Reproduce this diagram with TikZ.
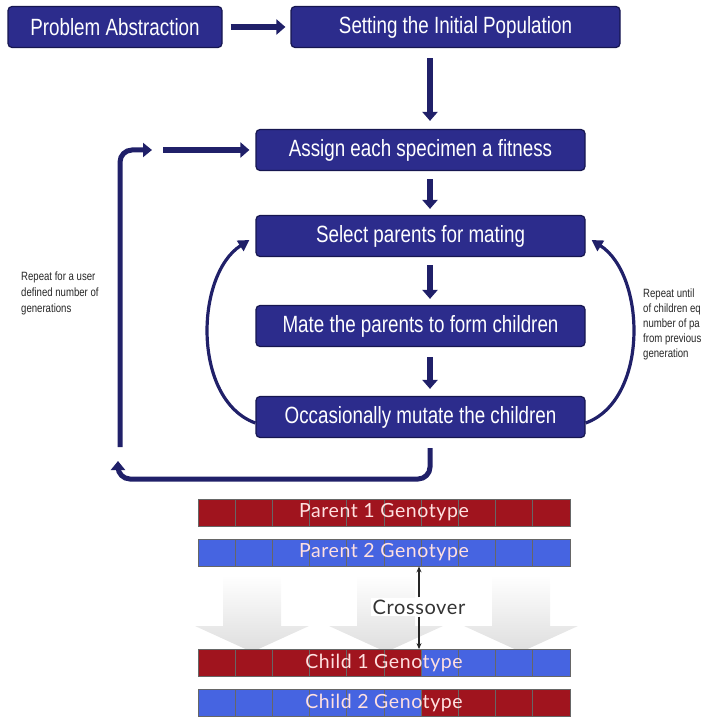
\documentclass[tikz,border=0pt]{standalone}
\usepackage{fontspec}
\setmainfont[FakeStretch=0.8]{Liberation Sans}
\newfontfamily\genofont[LetterSpace=3]{Lato}
\usetikzlibrary{arrows.meta}
\definecolor{boxblue}{RGB}{44,44,140}
\definecolor{boxedge}{RGB}{22,22,80}
\definecolor{arrownavy}{RGB}{32,32,105}
\definecolor{genored}{RGB}{160,20,30}
\definecolor{genoblue}{RGB}{70,100,225}

\begin{document}
\begin{tikzpicture}[x=1pt,y=-1pt,
    stage/.style={draw=boxedge,line width=1.2pt,fill=boxblue,rounded corners=4pt,text=white,
      minimum width=329pt,minimum height=41pt,inner sep=0pt,font=\fontsize{23.5}{26}\selectfont},
    flowarrow/.style={draw=arrownavy,line width=6pt,-{Triangle[length=9pt,width=15pt]}},
    looparrow/.style={draw=arrownavy,line width=5pt,rounded corners=12pt,-{Triangle[length=9pt,width=14pt]}},
    bendarrow/.style={draw=arrownavy,line width=3.2pt,-{Triangle[length=11pt,width=12pt]}},
    note/.style={align=left,anchor=north west,inner sep=0pt,text=black!85,font=\fontsize{12}{16}\selectfont},
    genobar/.style 2 args={minimum width=372pt,minimum height=27pt,inner sep=0pt,
      draw=black!60,line width=0.8pt,text=white!88!red,font=\genofont\fontsize{19.5}{22}\selectfont,
      path picture={
        \fill[#1] (path picture bounding box.south west) rectangle ([xshift=223.2pt]path picture bounding box.north west);
        \fill[#2] ([xshift=223.2pt]path picture bounding box.south west) rectangle (path picture bounding box.north east);
        \foreach \k in {1,...,9}
          \draw[black!60,line width=0.8pt] ([xshift={37.2pt*\k}]path picture bounding box.south west) -- ([xshift={37.2pt*\k}]path picture bounding box.north west);
      }},
    bigdown/.style={top color=white,bottom color=black!13,draw=none},
    crossarrow/.style={draw=black!85,line width=1.4pt,-{Stealth[length=6pt,width=5pt]}}
  ]
  \useasboundingbox (0,0) rectangle (703,719);
  \clip (0,0) rectangle (703,719);

  \node[stage,minimum width=214pt] (abs) at (115,27) {Problem Abstraction};
  \node[stage] (init) at (455.5,27) {Setting the Initial Population};
  \node[stage] (fit) at (420.5,150) {Assign each specimen a fitness};
  \node[stage] (sel) at (420.5,236) {Select parents for mating};
  \node[stage] (mate) at (420.5,326) {Mate the parents to form children};
  \node[stage] (mut) at (420.5,417) {Occasionally mutate the children};

  \coordinate (col) at (430,0);
  \draw[flowarrow,shorten <=8pt,shorten >=5pt] (abs) -- (init);
  \draw[flowarrow,shorten <=10pt,shorten >=8pt] (col |- init.south) -- (col |- fit.north);
  \draw[flowarrow,shorten <=8pt,shorten >=6pt] (col |- fit.south) -- (col |- sel.north);
  \draw[flowarrow,shorten <=8pt,shorten >=6pt] (col |- sel.south) -- (col |- mate.north);
  \draw[flowarrow,shorten <=10pt,shorten >=7pt] (col |- mate.south) -- (col |- mut.north);

  \coordinate (loopbot) at (118,479);
  \coordinate (looptip) at (118,461);
  \draw[looparrow] ([yshift=-10pt]col |- mut.south) |- (loopbot) -- (looptip);
  \coordinate (loopfoot) at (120,447);
  \coordinate (loophead) at (152,150);
  \draw[looparrow] (loopfoot) |- (loophead);
  \coordinate (feedin) at (163,150);
  \draw[flowarrow,shorten >=6pt] (feedin) -- (fit.west);

  \draw[bendarrow] ([yshift=-6pt]mut.west) .. controls (192,400) and (195,275) .. ([shift={(-6pt,-4pt)}]sel.west);
  \draw[bendarrow] ([yshift=-6pt]mut.east) .. controls (649,400) and (646,275) .. ([shift={(6pt,-4pt)}]sel.east);

  \node[note] (repgen) at (21,272) {Repeat for a user\\defined number of\\generations};
  \node[note,font=\fontsize{12}{14.8}\selectfont] (repkids) at (643,289) {Repeat until\\of children eq\\number of pa\\from previous\\generation};

  \foreach \cx in {252,386,521}
    \shade[bigdown] (\cx-29,575) -- (\cx+29,575) -- (\cx+29,626) -- (\cx+57,626) -- (\cx,652) -- (\cx-57,626) -- (\cx-29,626) -- cycle;

  \node[genobar={genored}{genored}] (par1) at (384,512.5) {Parent 1 Genotype};
  \node[genobar={genoblue}{genoblue}] (par2) at (384,552.5) {Parent 2 Genotype};
  \node[genobar={genored}{genoblue}] (kid1) at (384,663) {Child 1 Genotype};
  \node[genobar={genoblue}{genored}] (kid2) at (384,703) {Child 2 Genotype};

  \node[fill=white,inner sep=2pt,text=black!80,font=\genofont\fontsize{20}{22}\selectfont] (cross) at (419,607) {Crossover};
  \draw[crossarrow] (cross.north) -- (par2.south -| cross.north);
  \draw[crossarrow] (cross.south) -- (kid1.north -| cross.south);
\end{tikzpicture}
\end{document}
